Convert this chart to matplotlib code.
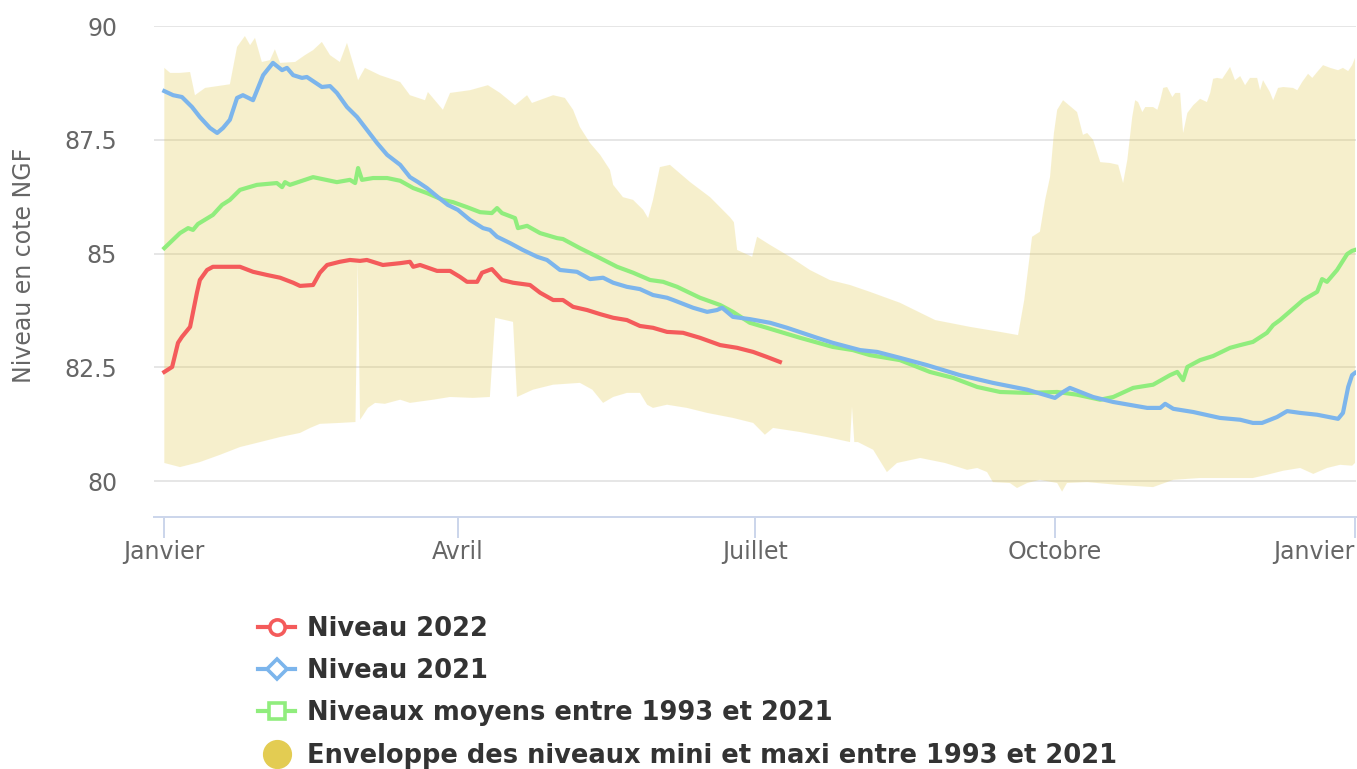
import numpy as np
import matplotlib
matplotlib.use('Agg')
import matplotlib.pyplot as plt
from matplotlib.lines import Line2D

# ---------------- data (day of year, level in m NGF) ----------------
month_ticks = [0, 90, 181, 273, 365]
month_labels = ['Janvier', 'Avril', 'Juillet', 'Octobre', 'Janvier']
y_ticks = [80, 82.5, 85, 87.5, 90]

day_2022 = [0, 2.4, 4.2, 5.4, 7.9, 10.0, 10.9, 13.1, 14.9, 19.2, 23.2, 27.2, 31.5, 35.5,
            39.5, 41.6, 45.6, 47.7, 49.9, 53.8, 56.9, 60.0, 62.1, 67.0, 72.3, 75.3, 76.3,
            78.4, 83.6, 87.6, 90.6, 92.8, 95.9, 97.4, 100.4, 103.5, 106.9, 112.1, 115.2,
            119.2, 122.2, 125.3, 129.6, 133.6, 137.6, 141.8, 145.8, 149.8, 154.1, 159.0,
            164.2, 170.4, 175.6, 180.5, 184.7, 188.7]
niveau_2022 = [82.40, 82.51, 83.04, 83.17, 83.39, 84.14, 84.42, 84.64, 84.71, 84.71, 84.71,
               84.60, 84.53, 84.47, 84.36, 84.29, 84.31, 84.58, 84.75, 84.82, 84.86, 84.84,
               84.86, 84.75, 84.79, 84.82, 84.71, 84.75, 84.62, 84.62, 84.49, 84.38, 84.38,
               84.58, 84.66, 84.42, 84.36, 84.31, 84.14, 83.98, 83.98, 83.83, 83.76, 83.67,
               83.59, 83.54, 83.41, 83.37, 83.28, 83.26, 83.15, 82.99, 82.93, 82.84, 82.73,
               82.62]

day_2021 = [0, 2.7, 5.4, 8.5, 10.9, 14.0, 16.2, 18.0, 20.1, 22.3, 24.1, 27.2, 30.3, 33.3,
            36.1, 37.6, 39.5, 42.2, 43.7, 48.3, 50.8, 52.9, 56.0, 59.1, 62.1, 65.2, 68.3,
            72.3, 75.3, 77.8, 80.5, 83.9, 86.9, 90.0, 93.7, 97.7, 99.8, 102.0, 106.0, 109.9,
            114.3, 117.3, 121.3, 126.5, 130.5, 134.5, 137.6, 141.8, 145.8, 149.8, 154.1,
            156.0, 162.1, 166.4, 169.4, 171.0, 174.3, 179.5, 185.7, 190.9, 200.1, 204.9,
            213.3, 218.5, 225.5, 233.8, 243.9, 254.0, 264.5, 273.0, 275.5, 277.6, 284.7,
            290.9, 301.3, 305.3, 306.8, 309.3, 315.4, 323.6, 329.8, 333.7, 336.5, 341.1,
            344.2, 348.2, 353.4, 359.8, 361.3, 362.9, 364.1, 365.0]
niveau_2021 = [88.57, 88.48, 88.44, 88.22, 88.00, 87.76, 87.65, 87.76, 87.94, 88.42, 88.48,
               88.37, 88.92, 89.19, 89.03, 89.08, 88.92, 88.86, 88.88, 88.66, 88.68, 88.53,
               88.22, 88.00, 87.72, 87.43, 87.17, 86.95, 86.68, 86.57, 86.44, 86.24, 86.07,
               85.96, 85.74, 85.56, 85.52, 85.37, 85.23, 85.08, 84.93, 84.86, 84.64, 84.60,
               84.44, 84.47, 84.36, 84.27, 84.22, 84.09, 84.03, 83.98, 83.81, 83.72, 83.76,
               83.81, 83.61, 83.56, 83.48, 83.37, 83.15, 83.04, 82.88, 82.84, 82.71, 82.55,
               82.33, 82.16, 82.01, 81.83, 81.96, 82.05, 81.85, 81.74, 81.61, 81.61, 81.70,
               81.59, 81.52, 81.39, 81.35, 81.28, 81.28, 81.41, 81.54, 81.50, 81.46, 81.37,
               81.50, 82.07, 82.33, 82.38]

day_moyen = [0, 4.8, 7.3, 8.8, 10.3, 14.9, 17.7, 20.1, 23.2, 28.4, 34.5, 36.1, 37.0, 38.5,
             45.6, 52.9, 56.9, 58.5, 59.4, 60.6, 64.0, 68.3, 72.3, 76.3, 80.5, 85.4, 88.5,
             92.8, 96.8, 100.4, 102.0, 103.5, 107.5, 108.4, 111.2, 115.2, 120.4, 122.2,
             127.4, 133.6, 138.8, 143.7, 148.9, 152.9, 157.2, 164.2, 170.4, 174.3, 179.5,
             184.7, 194.9, 204.9, 211.1, 216.3, 225.5, 234.7, 241.8, 249.2, 256.2, 264.5,
             273.7, 279.8, 286.9, 290.9, 297.0, 303.1, 308.3, 310.5, 312.3, 313.6, 317.5,
             321.5, 326.7, 329.8, 333.7, 338.0, 339.9, 342.0, 349.1, 353.4, 354.9, 356.4,
             359.5, 362.6, 364.1, 365.0]
niveau_moyen = [85.12, 85.45, 85.56, 85.52, 85.65, 85.85, 86.07, 86.18, 86.40, 86.51, 86.55,
                86.46, 86.57, 86.51, 86.68, 86.57, 86.62, 86.55, 86.88, 86.62, 86.66, 86.66,
                86.60, 86.44, 86.33, 86.18, 86.13, 86.02, 85.91, 85.89, 86.00, 85.89, 85.78,
                85.56, 85.61, 85.45, 85.34, 85.32, 85.12, 84.90, 84.71, 84.58, 84.42, 84.38,
                84.27, 84.03, 83.87, 83.72, 83.48, 83.37, 83.15, 82.95, 82.88, 82.77, 82.66,
                82.40, 82.27, 82.07, 81.96, 81.94, 81.96, 81.90, 81.79, 81.85, 82.05, 82.12,
                82.33, 82.40, 82.22, 82.51, 82.66, 82.75, 82.93, 82.99, 83.06, 83.26, 83.43,
                83.54, 83.98, 84.16, 84.44, 84.38, 84.64, 84.99, 85.06, 85.08]

day_max = [0, 1.8, 4.8, 7.9, 9.4, 12.5, 20.1, 22.3, 24.7, 26.3, 27.8, 29.9, 32.4, 33.9,
           35.5, 40.1, 43.1, 45.6, 48.3, 50.8, 53.8, 56.0, 59.4, 61.5, 66.1, 72.3, 75.3,
           79.9, 80.8, 85.4, 87.6, 93.7, 99.2, 102.9, 107.5, 111.2, 112.7, 119.2, 122.8,
           125.3, 127.4, 130.5, 133.6, 136.6, 137.6, 140.6, 143.7, 146.8, 148.3, 149.8,
           151.9, 155.0, 161.2, 167.3, 173.4, 174.6, 175.6, 180.2, 181.7, 185.7, 191.8,
           197.9, 204.0, 210.2, 216.3, 225.5, 236.3, 247.0, 256.2, 261.7, 263.6, 266.0,
           268.4, 270.0, 271.5, 272.7, 273.7, 275.5, 279.8, 281.6, 282.9, 284.7, 286.9,
           289.9, 292.4, 293.9, 295.2, 296.7, 297.6, 298.5, 299.8, 300.7, 303.1, 304.4,
           305.3, 306.2, 307.4, 309.0, 309.9, 311.4, 312.3, 313.6, 315.4, 317.5, 319.6,
           320.6, 321.5, 322.7, 324.3, 326.7, 328.2, 329.8, 331.3, 332.8, 335.0, 335.9,
           336.8, 338.9, 339.9, 341.4, 343.0, 346.0, 347.3, 348.8, 350.6, 351.9, 353.4,
           355.2, 357.4, 359.8, 361.3, 362.9, 364.1, 365.0]
niveau_max = [89.08, 88.97, 88.97, 88.99, 88.48, 88.64, 88.72, 89.54, 89.78, 89.58, 89.74,
              89.21, 89.25, 89.49, 89.19, 89.21, 89.36, 89.47, 89.65, 89.36, 89.21, 89.63,
              88.81, 89.08, 88.92, 88.77, 88.48, 88.37, 88.55, 88.16, 88.53, 88.59, 88.70,
              88.53, 88.26, 88.48, 88.31, 88.48, 88.42, 88.16, 87.78, 87.43, 87.17, 86.84,
              86.51, 86.24, 86.18, 85.96, 85.78, 86.18, 86.90, 86.95, 86.57, 86.24, 85.80,
              85.69, 85.08, 84.93, 85.37, 85.19, 84.93, 84.64, 84.42, 84.31, 84.16, 83.92,
              83.54, 83.39, 83.28, 83.21, 83.98, 85.37, 85.48, 86.18, 86.68, 87.65, 88.16,
              88.37, 88.11, 87.61, 87.65, 87.50, 87.01, 86.99, 86.95, 86.55, 87.06, 88.00,
              88.37, 88.33, 88.11, 88.22, 88.22, 88.16, 88.37, 88.64, 88.66, 88.44, 88.53,
              88.53, 87.65, 88.09, 88.26, 88.40, 88.33, 88.53, 88.84, 88.86, 88.84, 89.10,
              88.81, 88.90, 88.70, 88.86, 88.86, 88.59, 88.81, 88.55, 88.37, 88.64, 88.66,
              88.64, 88.59, 88.77, 88.95, 88.86, 88.99, 89.14, 89.08, 89.03, 89.08, 89.01,
              89.14, 89.30]

day_min = [0, 4.8, 10.9, 17.1, 23.2, 29.4, 35.5, 41.6, 44.7, 47.7, 53.8, 58.6, 59.3, 60.0,
           60.6, 62.4, 64.6, 67.6, 70.7, 72.3, 75.3, 82.4, 87.6, 94.6, 99.8, 101.4, 106.9,
           108.1, 113.0, 119.2, 127.4, 131.2, 134.5, 137.6, 141.8, 145.8, 148.0, 149.8,
           154.1, 160.2, 166.4, 174.3, 180.5, 184.1, 186.6, 194.9, 203.1, 210.2, 210.8,
           211.5, 212.6, 217.3, 221.5, 224.6, 231.7, 239.3, 246.1, 249.2, 252.2, 254.0,
           259.2, 261.4, 264.5, 268.4, 273.7, 275.2, 276.7, 282.9, 292.1, 303.1, 309.3,
           317.5, 327.6, 333.7, 338.0, 343.0, 348.2, 352.2, 356.4, 360.4, 364.1, 365.0]
niveau_min = [80.40, 80.31, 80.42, 80.58, 80.75, 80.86, 80.97, 81.06, 81.17, 81.26, 81.28,
              81.30, 84.82, 81.35, 81.41, 81.61, 81.72, 81.70, 81.76, 81.79, 81.72, 81.79,
              81.85, 81.83, 81.85, 83.59, 83.50, 81.85, 82.01, 82.12, 82.16, 82.01, 81.72,
              81.85, 81.94, 81.94, 81.68, 81.61, 81.68, 81.61, 81.50, 81.39, 81.28, 81.02,
              81.17, 81.08, 80.97, 80.86, 81.63, 80.86, 80.86, 80.69, 80.20, 80.40, 80.51,
              80.40, 80.25, 80.29, 80.20, 79.98, 79.96, 79.85, 79.96, 80.03, 79.96, 79.77,
              79.96, 79.98, 79.92, 79.87, 80.03, 80.07, 80.07, 80.07, 80.14, 80.23, 80.29,
              80.16, 80.29, 80.36, 80.34, 80.40]

# ---------------- styling ----------------
RED = '#f45b5b'
BLUE = '#7cb5ec'
GREEN = '#90ed7d'
BAND = '#dfc337'
BAND_LEG = '#e3cc52'
LBL = '#666666'

plt.rcParams['font.family'] = ['DejaVu Sans']

W, H = 1357, 769
fig = plt.figure(figsize=(W / 100, H / 100), dpi=100)
ax_left, ax_right, ax_top, ax_bot = 154, 1356, 26, 516.7
ax = fig.add_axes([ax_left / W, 1 - ax_bot / H, (ax_right - ax_left) / W, (ax_bot - ax_top) / H])

# envelope
env_x = np.concatenate([day_max, day_min[::-1]])
env_y = np.concatenate([niveau_max, niveau_min[::-1]])
ax.fill(env_x, env_y, color=BAND, alpha=0.25, lw=0, zorder=1)

lw = 3.0
ax.plot(day_moyen, niveau_moyen, color=GREEN, lw=lw, zorder=3, solid_joinstyle='round')
ax.plot(day_2021, niveau_2021, color=BLUE, lw=lw, zorder=4, solid_joinstyle='round')
ax.plot(day_2022, niveau_2022, color=RED, lw=lw, zorder=5, solid_joinstyle='round')

ax.set_xlim(-3.16, 365.3)
ax.set_ylim(79.22, 90)

ax.set_axisbelow(True)
ax.grid(axis='y', color='#e6e6e6', lw=1.44, zorder=0)
ax.grid(axis='x', visible=False)

for s in ['left', 'right', 'top']:
    ax.spines[s].set_visible(False)
ax.spines['bottom'].set_color('#ccd6eb')
ax.spines['bottom'].set_linewidth(1.44)

ax.set_xticks(month_ticks)
ax.set_xticklabels(month_labels)
ax.tick_params(axis='x', length=15, width=1.44, color='#ccd6eb', labelsize=17,
               labelcolor=LBL, pad=2)
ax.get_xticklabels()[-1].set_horizontalalignment('right')
ax.get_xticklabels()[-1].set_x(365)

ax.set_yticks(y_ticks)
ax.set_yticklabels([('%g' % v) for v in y_ticks])
ax.tick_params(axis='y', length=0, labelsize=17, labelcolor=LBL, pad=26.5)

ax.text((24 - ax_left) / (ax_right - ax_left), (ax_bot - 265) / (ax_bot - ax_top),
        'Niveau en cote NGF', rotation=90, transform=ax.transAxes, ha='center',
        va='center', fontsize=17, color=LBL)

handles = [
    Line2D([], [], color=RED, lw=lw, marker='o', ms=11, mfc='white', mew=2.6, mec=RED),
    Line2D([], [], color=BLUE, lw=lw, marker='D', ms=10, mfc='white', mew=2.6, mec=BLUE),
    Line2D([], [], color=GREEN, lw=lw, marker='s', ms=11, mfc='white', mew=2.6, mec=GREEN),
    Line2D([], [], ls='none', marker='o', ms=20, color=BAND_LEG),
]
labels = ['Niveau 2022', 'Niveau 2021', 'Niveaux moyens entre 1993 et 2021',
          'Enveloppe des niveaux mini et maxi entre 1993 et 2021']
fig.legend(handles, labels, loc='upper left', bbox_to_anchor=(258 / W, 1 - 616 / H),
           frameon=False, prop={'weight': 'bold', 'size': 18.5}, labelcolor='#333333',
           handlelength=1.45, handletextpad=0.45, labelspacing=0.63, borderpad=0,
           borderaxespad=0, numpoints=1)

fig.savefig('out.png', dpi=100)
